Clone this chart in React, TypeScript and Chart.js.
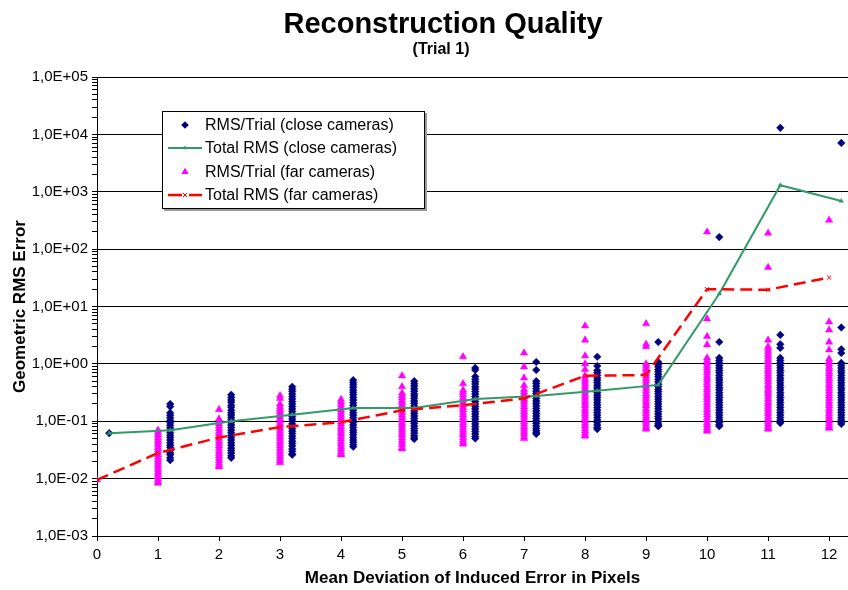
import React, { useEffect, useRef } from 'react';
import { Chart, registerables } from 'chart.js';

Chart.register(...registerables);

const FONT = '"Liberation Sans", Arial, Helvetica, sans-serif';

const titleText = 'Reconstruction Quality';
const subtitleText = '(Trial 1)';
const xAxisTitle = 'Mean Deviation of Induced Error in Pixels';
const yAxisTitle = 'Geometric RMS Error';
const seriesNames = [
  'RMS/Trial (close cameras)',
  'Total RMS (close cameras)',
  'RMS/Trial (far cameras)',
  'Total RMS (far cameras)',
];

// x values: far cameras at the deviation, close cameras shifted by 0.2
const deviations = [0, 1, 2, 3, 4, 5, 6, 7, 8, 9, 10, 11, 12];
const closeX = [0.2, 1.2, 2.2, 3.2, 4.2, 5.2, 6.2, 7.2, 8.2, 9.2, 10.2, 11.2, 12.2];

const closeTotal = [0.062, 0.07, 0.1, 0.13, 0.17, 0.17, 0.245, 0.275, 0.34, 0.43, 16.7, 1300, 690];
const farTotal = [0.0095, 0.028, 0.052, 0.079, 0.096, 0.155, 0.19, 0.25, 0.62, 0.64, 20, 19.6, 32];

const closeTrials: number[][] = [
  [0.062],
  [0.2, 0.18, 0.14, 0.127, 0.115, 0.104, 0.094, 0.085, 0.077, 0.07, 0.063, 0.057, 0.052, 0.047, 0.042, 0.038, 0.035, 0.031, 0.028, 0.026, 0.023, 0.021],
  [0.29, 0.26, 0.235, 0.215, 0.19, 0.175, 0.155, 0.14, 0.128, 0.116, 0.105, 0.095, 0.086, 0.078, 0.07, 0.063, 0.057, 0.052, 0.047, 0.042, 0.038, 0.034, 0.031, 0.028, 0.025, 0.023],
  [0.4, 0.36, 0.33, 0.3, 0.27, 0.245, 0.22, 0.2, 0.18, 0.163, 0.148, 0.134, 0.121, 0.11, 0.1, 0.09, 0.082, 0.074, 0.067, 0.061, 0.055, 0.05, 0.045, 0.041, 0.037, 0.033, 0.03, 0.027, 0.026],
  [0.52, 0.47, 0.43, 0.39, 0.35, 0.32, 0.29, 0.26, 0.235, 0.21, 0.19, 0.172, 0.156, 0.141, 0.128, 0.116, 0.105, 0.095, 0.086, 0.078, 0.07, 0.064, 0.058, 0.052, 0.047, 0.043, 0.039, 0.036],
  [0.5, 0.45, 0.41, 0.37, 0.335, 0.3, 0.275, 0.25, 0.225, 0.205, 0.185, 0.167, 0.151, 0.137, 0.124, 0.112, 0.101, 0.092, 0.083, 0.075, 0.068, 0.062, 0.056, 0.051, 0.049],
  [0.85, 0.78, 0.6, 0.54, 0.49, 0.445, 0.4, 0.365, 0.33, 0.3, 0.27, 0.245, 0.22, 0.2, 0.181, 0.164, 0.148, 0.134, 0.121, 0.11, 0.099, 0.09, 0.081, 0.073, 0.066, 0.06, 0.054, 0.05],
  [1.08, 0.78, 0.5, 0.455, 0.41, 0.37, 0.335, 0.305, 0.275, 0.25, 0.225, 0.205, 0.185, 0.167, 0.151, 0.137, 0.124, 0.112, 0.101, 0.092, 0.083, 0.075, 0.068, 0.063, 0.06],
  [1.33, 0.92, 0.77, 0.7, 0.63, 0.57, 0.52, 0.47, 0.425, 0.385, 0.35, 0.315, 0.285, 0.26, 0.235, 0.212, 0.192, 0.174, 0.157, 0.142, 0.129, 0.116, 0.105, 0.095, 0.086, 0.078, 0.073],
  [2.4, 1.08, 0.98, 0.89, 0.8, 0.73, 0.66, 0.6, 0.54, 0.49, 0.44, 0.4, 0.36, 0.33, 0.3, 0.27, 0.245, 0.22, 0.2, 0.181, 0.164, 0.148, 0.134, 0.121, 0.11, 0.099, 0.09, 0.084, 0.082],
  [162, 2.4, 1.27, 1.15, 1.04, 0.94, 0.85, 0.77, 0.7, 0.63, 0.57, 0.52, 0.47, 0.425, 0.385, 0.35, 0.315, 0.285, 0.26, 0.235, 0.212, 0.192, 0.174, 0.157, 0.142, 0.129, 0.116, 0.105, 0.095, 0.087, 0.082],
  [13000, 3.2, 2.2, 1.9, 1.27, 1.15, 1.04, 0.94, 0.85, 0.77, 0.7, 0.63, 0.57, 0.52, 0.47, 0.425, 0.385, 0.35, 0.315, 0.285, 0.26, 0.235, 0.212, 0.192, 0.174, 0.157, 0.142, 0.129, 0.116, 0.105, 0.097, 0.093],
  [7100, 4.3, 1.8, 1.55, 1.04, 0.94, 0.85, 0.77, 0.7, 0.63, 0.57, 0.52, 0.47, 0.425, 0.385, 0.35, 0.315, 0.285, 0.26, 0.235, 0.212, 0.192, 0.174, 0.157, 0.142, 0.129, 0.116, 0.105, 0.096, 0.09],
];

const farTrials: number[][] = [
  [0.0095],
  [0.07, 0.064, 0.058, 0.052, 0.047, 0.043, 0.039, 0.035, 0.032, 0.029, 0.026, 0.0235, 0.0213, 0.0193, 0.0175, 0.0158, 0.0143, 0.013, 0.0118, 0.0107, 0.0097, 0.0088, 0.0083],
  [0.16, 0.11, 0.1, 0.09, 0.082, 0.074, 0.067, 0.061, 0.055, 0.05, 0.045, 0.041, 0.037, 0.0335, 0.03, 0.0275, 0.025, 0.0225, 0.0205, 0.0185, 0.0168, 0.016],
  [0.28, 0.25, 0.2, 0.18, 0.163, 0.148, 0.134, 0.121, 0.11, 0.1, 0.09, 0.082, 0.074, 0.067, 0.061, 0.055, 0.05, 0.045, 0.041, 0.037, 0.0335, 0.03, 0.0275, 0.025, 0.0225, 0.0205, 0.019],
  [0.24, 0.215, 0.195, 0.176, 0.16, 0.145, 0.131, 0.119, 0.108, 0.098, 0.089, 0.08, 0.073, 0.066, 0.06, 0.054, 0.049, 0.044, 0.04, 0.036, 0.0325, 0.0295, 0.027, 0.026],
  [0.62, 0.4, 0.31, 0.28, 0.255, 0.23, 0.21, 0.19, 0.172, 0.156, 0.141, 0.128, 0.116, 0.105, 0.095, 0.086, 0.078, 0.07, 0.064, 0.058, 0.052, 0.047, 0.043, 0.039, 0.035, 0.033],
  [1.33, 0.45, 0.35, 0.32, 0.29, 0.26, 0.235, 0.212, 0.192, 0.174, 0.157, 0.142, 0.129, 0.116, 0.105, 0.095, 0.086, 0.078, 0.07, 0.064, 0.058, 0.052, 0.047, 0.043, 0.04],
  [1.55, 0.89, 0.57, 0.42, 0.36, 0.325, 0.295, 0.265, 0.24, 0.218, 0.197, 0.178, 0.161, 0.146, 0.132, 0.12, 0.108, 0.098, 0.089, 0.08, 0.073, 0.066, 0.06, 0.054, 0.05],
  [4.6, 2.6, 1.38, 1.0, 0.8, 0.62, 0.55, 0.5, 0.455, 0.41, 0.37, 0.335, 0.305, 0.275, 0.25, 0.225, 0.205, 0.185, 0.167, 0.151, 0.137, 0.124, 0.112, 0.101, 0.092, 0.083, 0.075, 0.068, 0.062, 0.057, 0.055],
  [5.0, 2.2, 2.0, 1.0, 0.91, 0.82, 0.74, 0.67, 0.61, 0.55, 0.5, 0.45, 0.41, 0.37, 0.335, 0.3, 0.275, 0.25, 0.225, 0.205, 0.185, 0.165, 0.15, 0.136, 0.123, 0.112, 0.1, 0.091, 0.082, 0.076, 0.073],
  [200, 6.1, 3.0, 2.15, 1.27, 1.15, 1.04, 0.94, 0.85, 0.77, 0.7, 0.63, 0.57, 0.52, 0.47, 0.425, 0.385, 0.35, 0.315, 0.285, 0.26, 0.235, 0.212, 0.192, 0.174, 0.157, 0.142, 0.129, 0.116, 0.105, 0.095, 0.086, 0.078, 0.071, 0.067],
  [190, 48, 2.6, 2.0, 1.8, 1.63, 1.47, 1.33, 1.2, 1.09, 0.98, 0.89, 0.8, 0.73, 0.66, 0.6, 0.54, 0.49, 0.44, 0.4, 0.36, 0.33, 0.3, 0.27, 0.245, 0.22, 0.2, 0.181, 0.164, 0.148, 0.134, 0.121, 0.11, 0.099, 0.09, 0.081, 0.075, 0.073],
  [320, 5.4, 3.9, 2.4, 1.75, 1.22, 1.1, 1.0, 0.9, 0.82, 0.74, 0.67, 0.61, 0.55, 0.5, 0.45, 0.41, 0.37, 0.335, 0.3, 0.275, 0.25, 0.225, 0.205, 0.185, 0.165, 0.15, 0.136, 0.123, 0.112, 0.1, 0.091, 0.083, 0.077, 0.076],
];

const yDecades = [1e-3, 1e-2, 1e-1, 1e0, 1e1, 1e2, 1e3, 1e4, 1e5];
const yTickLabels = ['1,0E-03', '1,0E-02', '1,0E-01', '1,0E+00', '1,0E+01', '1,0E+02', '1,0E+03', '1,0E+04', '1,0E+05'];
const xTickLabels = ['0', '1', '2', '3', '4', '5', '6', '7', '8', '9', '10', '11', '12'];

const NAVY = '#000080';
const MAGENTA = '#ff00ff';
const GREEN = '#339966';
const RED = '#ff0000';

const decadeIndex = (v: number) => yDecades.findIndex((d) => Math.abs(v / d - 1) < 1e-6);

const yTickValues: number[] = [];
yDecades.forEach((d, i) => {
  yTickValues.push(d);
  if (i < yDecades.length - 1) {
    for (let m = 2; m <= 9; m++) yTickValues.push(m * d);
  }
});

function drawMarker(ctx: CanvasRenderingContext2D, style: string, x: number, y: number, r: number, color: string) {
  ctx.save();
  ctx.fillStyle = color;
  ctx.strokeStyle = color;
  ctx.lineWidth = 1;
  ctx.setLineDash([]);
  ctx.beginPath();
  if (style === 'rectRot') {
    ctx.moveTo(x, y - r);
    ctx.lineTo(x + r, y);
    ctx.lineTo(x, y + r);
    ctx.lineTo(x - r, y);
    ctx.closePath();
    ctx.fill();
  } else if (style === 'triangle') {
    ctx.moveTo(x, y - r);
    ctx.lineTo(x + r * Math.sin(Math.PI / 3), y + r / 2);
    ctx.lineTo(x - r * Math.sin(Math.PI / 3), y + r / 2);
    ctx.closePath();
    ctx.fill();
  } else if (style === 'crossRot') {
    const o = r * Math.SQRT1_2;
    ctx.moveTo(x - o, y - o);
    ctx.lineTo(x + o, y + o);
    ctx.moveTo(x + o, y - o);
    ctx.lineTo(x - o, y + o);
    ctx.stroke();
  }
  ctx.restore();
}

const titlePlugin = {
  id: 'titleTexts',
  afterDraw(chart: any) {
    const ctx: CanvasRenderingContext2D = chart.ctx;
    ctx.save();
    ctx.fillStyle = '#000';
    ctx.textAlign = 'center';
    ctx.textBaseline = 'alphabetic';
    ctx.font = `bold 29px ${FONT}`;
    ctx.fillText(titleText, 443, 33);
    ctx.font = `bold 16px ${FONT}`;
    ctx.fillText(subtitleText, 441, 54);
    ctx.restore();
  },
};

const legendPlugin = {
  id: 'boxLegend',
  afterDraw(chart: any) {
    const ctx: CanvasRenderingContext2D = chart.ctx;
    const left = 162;
    const top = 111;
    const w = 262;
    const h = 97;
    ctx.save();
    ctx.fillStyle = '#9a9a9a';
    ctx.fillRect(left + 2, top + 2, w + 1, h + 1);
    ctx.fillStyle = '#ffffff';
    ctx.fillRect(left, top, w, h);
    ctx.strokeStyle = '#000';
    ctx.lineWidth = 1;
    ctx.strokeRect(left + 0.5, top + 0.5, w, h);
    ctx.font = `16px ${FONT}`;
    ctx.textAlign = 'left';
    ctx.textBaseline = 'middle';
    chart.data.datasets.forEach((ds: any, i: number) => {
      const cy = Math.round(top + 13.5 + i * 23.6);
      const cx = left + 23;
      if (ds.showLine) {
        ctx.save();
        ctx.strokeStyle = ds.borderColor;
        ctx.lineWidth = ds.borderWidth;
        ctx.beginPath();
        if (ds.borderDash && ds.borderDash.length) {
          ctx.moveTo(left + 6, cy);
          ctx.lineTo(left + 20, cy);
          ctx.moveTo(left + 27, cy);
          ctx.lineTo(left + 40, cy);
        } else {
          ctx.moveTo(left + 6, cy);
          ctx.lineTo(left + 40, cy);
        }
        ctx.stroke();
        ctx.restore();
      }
      drawMarker(ctx, ds.pointStyle, cx, cy, ds.pointRadius, ds.pointBackgroundColor || ds.backgroundColor);
      ctx.fillStyle = '#000';
      ctx.fillText(ds.label, left + 43, cy + 1);
    });
    ctx.restore();
  },
};

export default function App() {
  const canvasRef = useRef<HTMLCanvasElement | null>(null);

  useEffect(() => {
    if (!canvasRef.current) return;

    const closePoints = closeTrials.flatMap((col, i) => col.map((v) => ({ x: closeX[i], y: v })));
    const farPoints = farTrials.flatMap((col, i) => col.map((v) => ({ x: deviations[i], y: v })));
    const closeLine = closeX.map((x, i) => ({ x, y: closeTotal[i] }));
    const farLine = deviations.map((x, i) => ({ x, y: farTotal[i] }));

    const chart = new Chart(canvasRef.current, {
      type: 'scatter',
      data: {
        datasets: [
          {
            label: seriesNames[0],
            data: closePoints,
            showLine: false,
            pointStyle: 'rectRot',
            pointRadius: 3.8,
            pointBorderWidth: 0.5,
            backgroundColor: NAVY,
            borderColor: NAVY,
            pointBackgroundColor: NAVY,
            pointBorderColor: NAVY,
            order: 3,
          } as any,
          {
            label: seriesNames[1],
            data: closeLine,
            showLine: true,
            borderColor: GREEN,
            borderWidth: 2,
            pointStyle: 'triangle',
            pointRadius: 2.5,
            pointBorderWidth: 0.5,
            backgroundColor: GREEN,
            pointBackgroundColor: GREEN,
            pointBorderColor: GREEN,
            order: 1,
          } as any,
          {
            label: seriesNames[2],
            data: farPoints,
            showLine: false,
            pointStyle: 'triangle',
            pointRadius: 4.2,
            pointBorderWidth: 0.5,
            backgroundColor: MAGENTA,
            borderColor: MAGENTA,
            pointBackgroundColor: MAGENTA,
            pointBorderColor: MAGENTA,
            order: 2,
          } as any,
          {
            label: seriesNames[3],
            data: farLine,
            showLine: true,
            borderColor: RED,
            borderWidth: 2.5,
            borderDash: [12, 6],
            pointStyle: 'crossRot',
            pointRadius: 3,
            pointBorderWidth: 1,
            backgroundColor: RED,
            pointBackgroundColor: RED,
            pointBorderColor: RED,
            order: 0,
          } as any,
        ],
      },
      options: {
        animation: false,
        responsive: false,
        maintainAspectRatio: false,
        devicePixelRatio: 1,
        layout: { autoPadding: false, padding: { top: 77, right: 0, bottom: 0, left: 0 } },
        plugins: {
          legend: { display: false },
          tooltip: { enabled: false },
          title: { display: false },
        },
        scales: {
          x: {
            type: 'linear',
            min: 0,
            max: 12.31,
            grid: {
              display: true,
              drawOnChartArea: false,
              drawTicks: true,
              tickLength: 5,
              color: '#000',
              tickColor: '#000',
            },
            border: { display: true, color: '#000', width: 1 },
            ticks: {
              stepSize: 1,
              includeBounds: false,
              autoSkip: false,
              maxRotation: 0,
              padding: 5,
              color: '#000',
              font: { family: FONT, size: 15 },
              callback: (v: any) => {
                const i = deviations.indexOf(Number(v));
                return i >= 0 ? xTickLabels[i] : '';
              },
            },
            title: {
              display: true,
              text: xAxisTitle,
              color: '#000',
              font: { family: FONT, size: 17, weight: 'bold' },
              padding: { top: 0, bottom: 1 },
            },
            afterFit: (s: any) => {
              s.height = 54;
              s.paddingLeft = 0;
              s.paddingRight = 0;
            },
          } as any,
          y: {
            type: 'logarithmic',
            min: 1e-3,
            max: 1e5,
            afterBuildTicks: (s: any) => {
              s.ticks = yTickValues.map((v) => ({ value: v, major: decadeIndex(v) >= 0 }));
            },
            grid: {
              display: true,
              drawTicks: true,
              tickLength: 5,
              color: (c: any) => (c.tick && decadeIndex(c.tick.value) >= 0 ? '#000' : 'rgba(0,0,0,0)'),
              tickColor: '#000',
            },
            border: { display: true, color: '#000', width: 1 },
            ticks: {
              autoSkip: false,
              padding: 4,
              color: '#000',
              font: { family: FONT, size: 15 },
              callback: (v: any) => {
                const i = decadeIndex(Number(v));
                return i >= 0 ? yTickLabels[i] : '';
              },
            },
            title: {
              display: true,
              text: yAxisTitle,
              color: '#000',
              font: { family: FONT, size: 17, weight: 'bold' },
              padding: { top: 10, bottom: 0 },
            },
            afterFit: (s: any) => {
              s.width = 97;
              s.paddingTop = 0;
              s.paddingBottom = 0;
            },
          } as any,
        },
      } as any,
      plugins: [titlePlugin, legendPlugin],
    });

    return () => chart.destroy();
  }, []);

  return (
    <div style={{ position: 'fixed', left: 0, top: 0, width: 848, height: 590, background: '#fff' }}>
      <canvas ref={canvasRef} width={848} height={590} style={{ display: 'block', width: 848, height: 590 }} />
    </div>
  );
}
